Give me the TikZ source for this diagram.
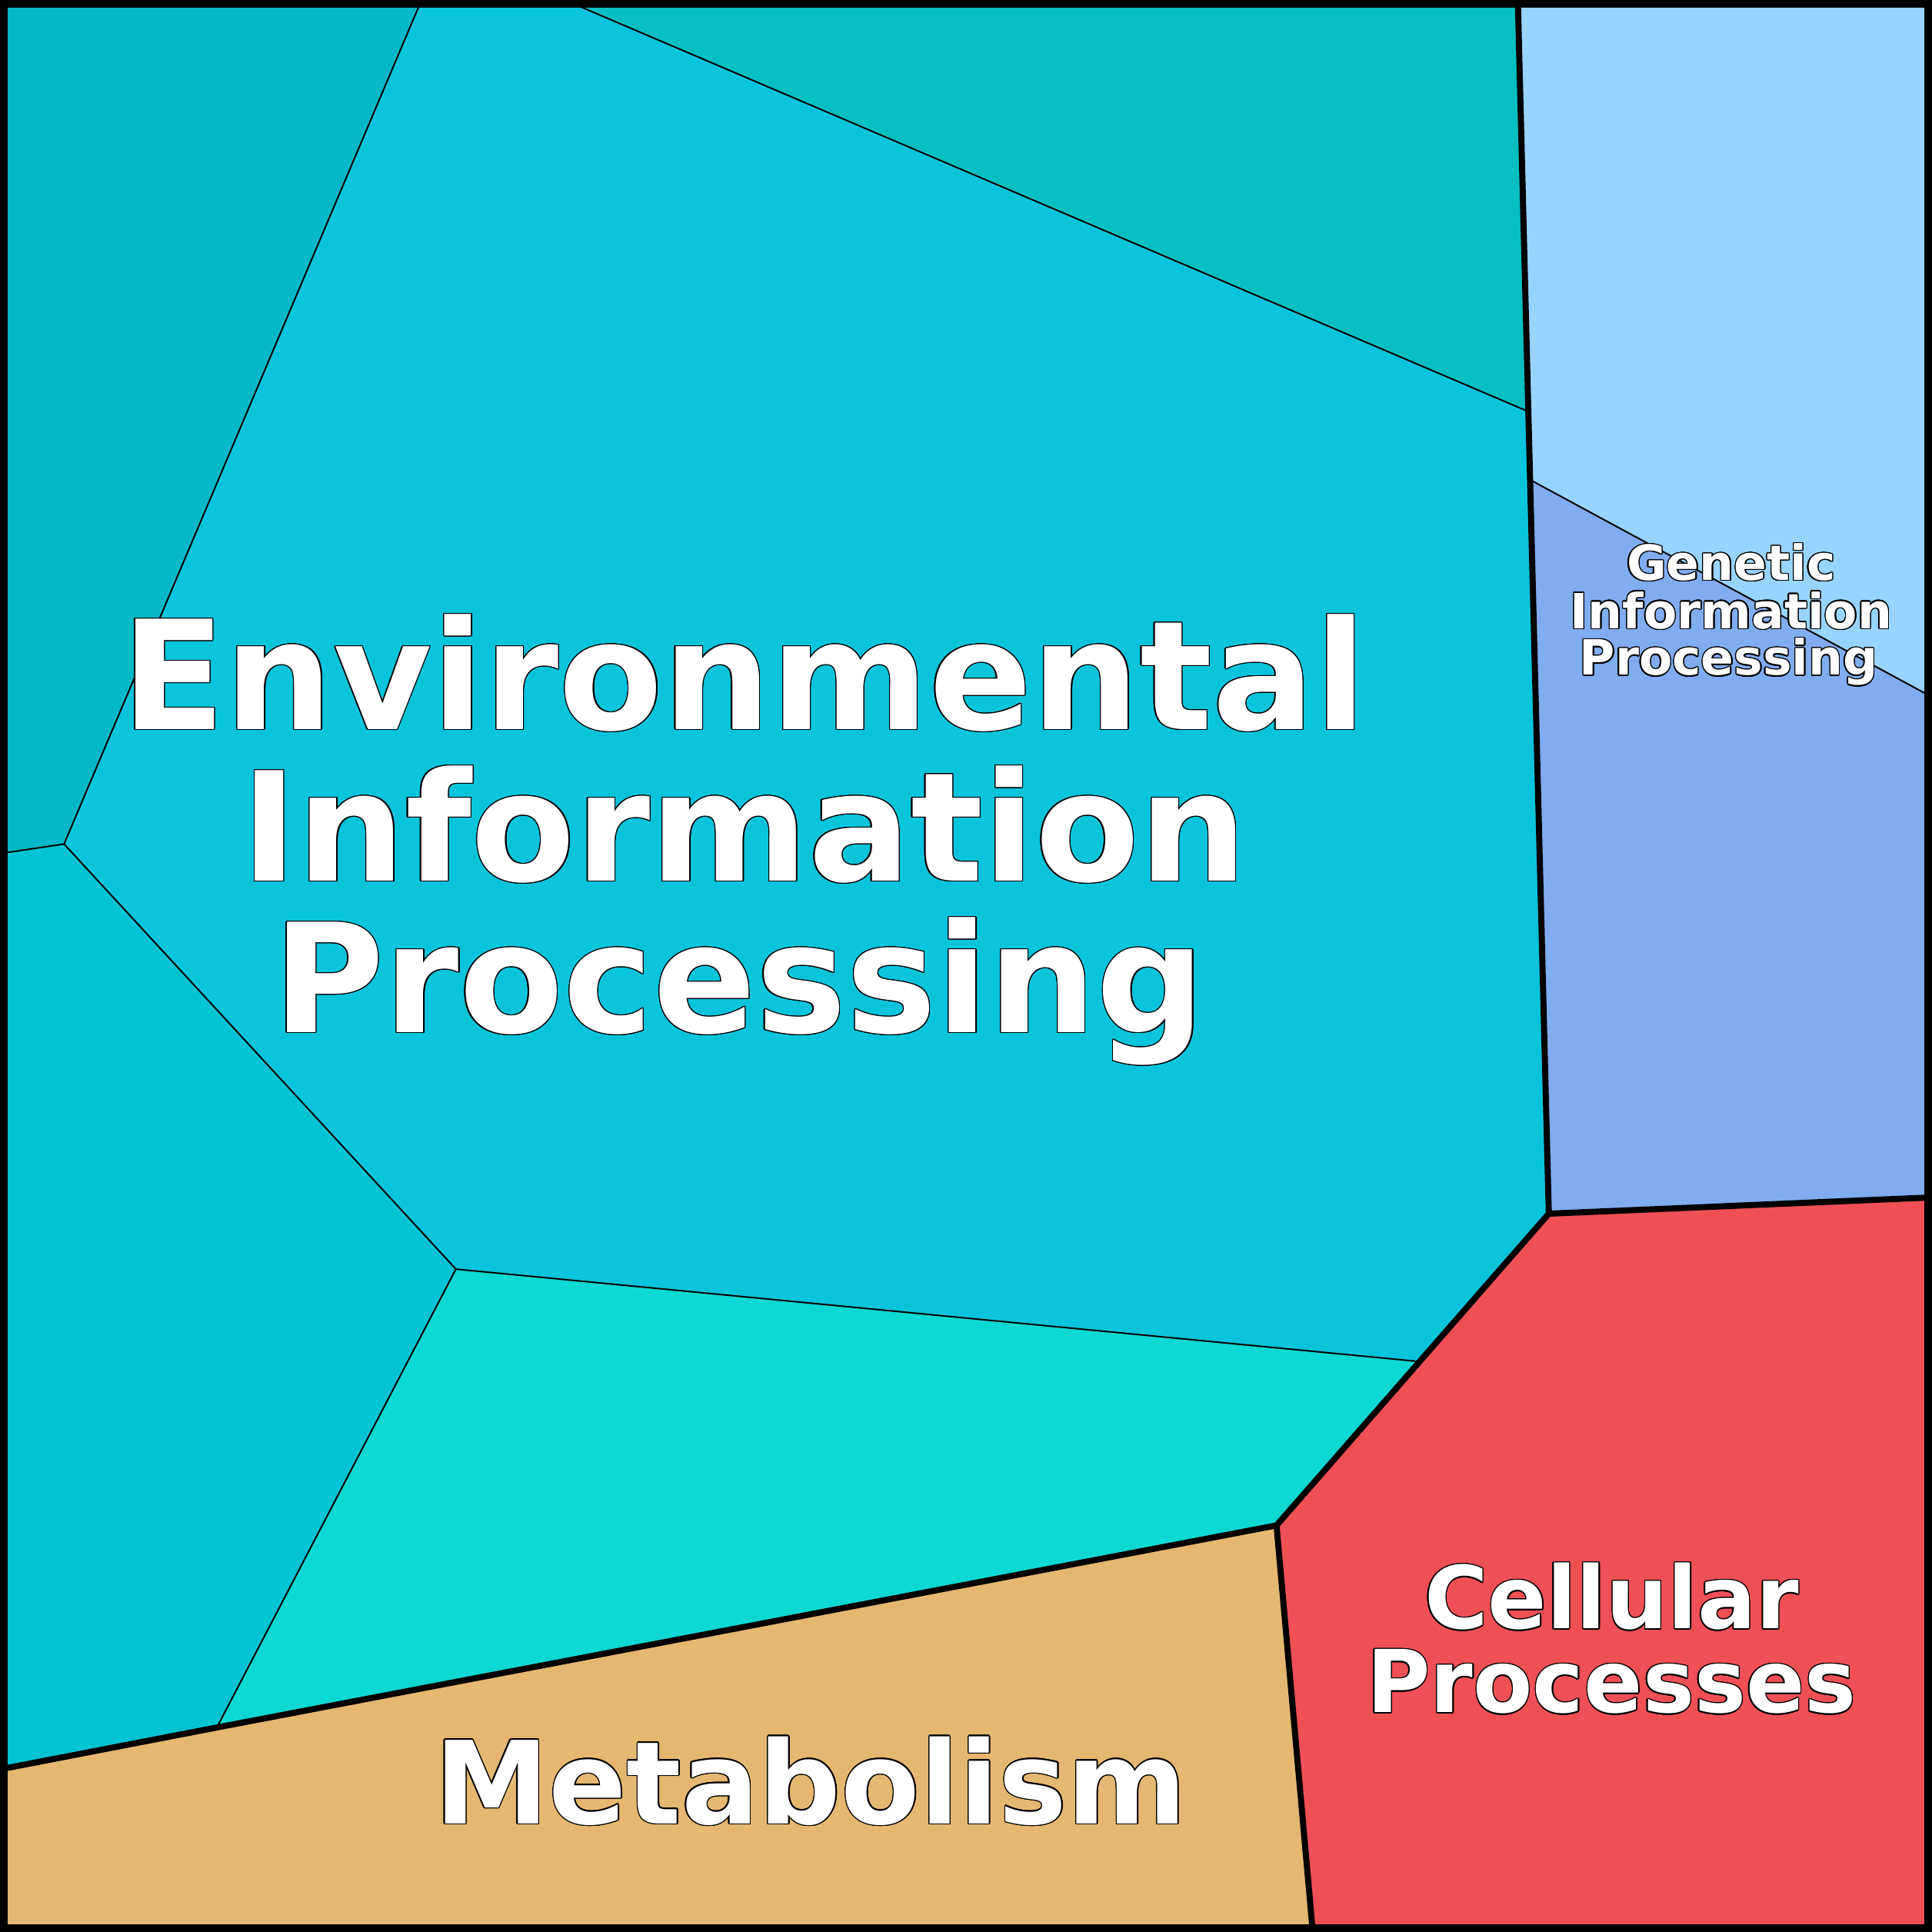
\documentclass[tikz,border=0pt]{standalone}
\usepackage{fontspec}
\setmainfont{DejaVu Sans}
\usepackage{contour}
\contourlength{0.25pt}
\begin{document}
\begin{tikzpicture}[x=0.01cm,y=-0.01cm,
  thin line/.style={draw=black,line width=0.35pt},
  thick line/.style={draw=black,line width=1.4pt,line join=round},
  lbl/.style={anchor=base,text=white,inner sep=0pt}]
\useasboundingbox (0,0) rectangle (1568,1568);
\coordinate (A) at (340,5); \coordinate (B) at (470,5); \coordinate (C) at (1232,5);
\coordinate (D) at (1238,333); \coordinate (E) at (1243,390); \coordinate (F) at (1257,985);
\coordinate (G) at (1563,972); \coordinate (H) at (1563,563); \coordinate (I) at (1152,1105);
\coordinate (J) at (1036,1238); \coordinate (K) at (1065,1563); \coordinate (L) at (370,1030);
\coordinate (M) at (52,685); \coordinate (N) at (5,692); \coordinate (O) at (176,1402);
\coordinate (P) at (5,1435); \coordinate (TL) at (5,5); \coordinate (TR) at (1563,5);
\coordinate (BR) at (1563,1563); \coordinate (BL) at (5,1563);
\fill[fill={rgb,255:red,5;green,184;blue,200}] (TL)--(A)--(M)--(N)--cycle;
\fill[fill={rgb,255:red,5;green,191;blue,194}] (B)--(C)--(D)--cycle;
\fill[fill={rgb,255:red,10;green,196;blue,220}] (A)--(B)--(D)--(E)--(F)--(I)--(L)--(M)--cycle;
\fill[fill={rgb,255:red,4;green,196;blue,212}] (N)--(M)--(L)--(O)--(P)--cycle;
\fill[fill={rgb,255:red,14;green,216;blue,212}] (L)--(I)--(J)--(O)--cycle;
\fill[fill={rgb,255:red,151;green,212;blue,255}] (C)--(TR)--(H)--(E)--(D)--cycle;
\fill[fill={rgb,255:red,128;green,172;blue,240}] (E)--(H)--(G)--(F)--cycle;
\fill[fill={rgb,255:red,238;green,80;blue,86}] (F)--(G)--(BR)--(K)--(J)--(I)--cycle;
\fill[fill={rgb,255:red,229;green,183;blue,113}] (P)--(O)--(J)--(K)--(BL)--cycle;
\draw[thin line] (A)--(M)--(N);
\draw[thin line] (B)--(D);
\draw[thin line] (M)--(L)--(I);
\draw[thin line] (L)--(O);
\draw[thin line] (E)--(H);
\draw[thick line] (C)--(F)--(G);
\draw[thick line] (F)--(J)--(K);
\draw[thick line] (J)--(O)--(P);
\draw[line width=2pt] (2.5,2.5) rectangle (1565.5,1565.5);
\node[lbl,font=\bfseries\fontsize{35}{35}\selectfont] (e1) at (604,592) {\contour{black}{Environmental}};
\node[lbl,font=\bfseries\fontsize{35}{35}\selectfont] (e2) at (604,715) {\contour{black}{Information}};
\node[lbl,font=\bfseries\fontsize{35}{35}\selectfont] (e3) at (600,838) {\contour{black}{Processing}};
\node[lbl,font=\bfseries\fontsize{11.2}{12}\selectfont] (g1) at (1405,471) {\contour{black}{Genetic}};
\node[lbl,font=\bfseries\fontsize{11.2}{12}\selectfont] (g2) at (1405,510) {\contour{black}{Information}};
\node[lbl,font=\bfseries\fontsize{11.2}{12}\selectfont] (g3) at (1403,548) {\contour{black}{Processing}};
\node[lbl,font=\bfseries\fontsize{20}{20}\selectfont] (c1) at (1308,1322) {\contour{black}{Cellular}};
\node[lbl,font=\bfseries\fontsize{20}{20}\selectfont] (c2) at (1308,1390) {\contour{black}{Processes}};
\node[lbl,font=\bfseries\fontsize{26.5}{27}\selectfont] (m1) at (658,1480) {\contour{black}{Metabolism}};
\end{tikzpicture}
\end{document}
